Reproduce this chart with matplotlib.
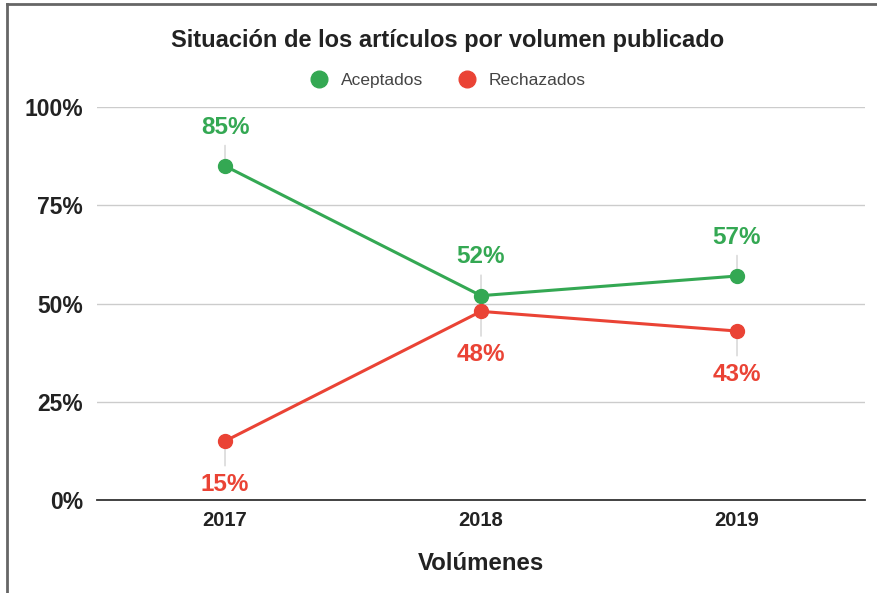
import matplotlib.pyplot as plt
from matplotlib.lines import Line2D
from matplotlib.ticker import FuncFormatter

plt.rcParams['font.family'] = ['Liberation Sans', 'DejaVu Sans']

# datos
volumenes = ['2017', '2018', '2019']
aceptados = [85, 52, 57]
rechazados = [15, 48, 43]
yticks = [0, 25, 50, 75, 100]

verde = '#34a853'
rojo = '#ea4335'

fig = plt.figure(figsize=(8.78, 5.93), dpi=100)
ax = fig.add_axes([0.1105, 0.1568, 0.8747, 0.6627])

x = range(len(volumenes))
ax.plot(x, aceptados, color=verde, lw=2.2, marker='o', ms=10, label='Aceptados', zorder=4)
ax.plot(x, rechazados, color=rojo, lw=2.2, marker='o', ms=10, label='Rechazados', zorder=4)

# etiquetas de datos con linea guia
for i in x:
    ax.annotate(f'{aceptados[i]}%', xy=(i, aceptados[i]), xytext=(0, 28),
                textcoords='offset points', ha='center', va='center',
                color=verde, fontsize=17.5, fontweight='bold',
                arrowprops=dict(arrowstyle='-', color='#dadada', lw=1.2,
                                shrinkA=3, shrinkB=4))
    ax.annotate(f'{rechazados[i]}%', xy=(i, rechazados[i]), xytext=(0, -31),
                textcoords='offset points', ha='center', va='center',
                color=rojo, fontsize=17.5, fontweight='bold',
                arrowprops=dict(arrowstyle='-', color='#dadada', lw=1.2,
                                shrinkA=3, shrinkB=4))

ax.set_xlim(-0.5, 2.5)
ax.set_ylim(0, 100)
ax.set_xticks(list(x))
ax.set_xticklabels(volumenes, fontsize=14.5, fontweight='bold', color='#222222')
ax.set_yticks(yticks)
ax.yaxis.set_major_formatter(FuncFormatter(lambda v, p: f'{int(v)}%'))
for lab in ax.get_yticklabels():
    lab.set_fontsize(16.5)
    lab.set_fontweight('bold')
    lab.set_color('#222222')
ax.tick_params(axis='both', length=0)
ax.tick_params(axis='y', pad=10)
ax.tick_params(axis='x', pad=8)

ax.grid(axis='y', color='#cccccc', lw=1)
ax.set_axisbelow(True)
for s in ['top', 'right', 'left']:
    ax.spines[s].set_visible(False)
ax.spines['bottom'].set_color('#333333')
ax.spines['bottom'].set_linewidth(1.3)
ax.spines['bottom'].set_zorder(3)

ax.set_xlabel('Volúmenes', fontsize=17.3, fontweight='bold', color='#222222', labelpad=16)

fig.text(0.51, 0.9325, 'Situación de los artículos por volumen publicado',
         ha='center', va='center', fontsize=17, fontweight='bold', color='#222222')

leg = fig.legend(loc='center', bbox_to_anchor=(0.51, 0.865), ncol=2, frameon=False,
                 fontsize=12.5, handlelength=1.1, columnspacing=2.0, handletextpad=0.7)
for t in leg.get_texts():
    t.set_color('#444444')
for h in leg.legend_handles:
    h.set_linestyle('none')
    h.set_markersize(12)

# borde gris
fig.add_artist(Line2D([0.008, 0.008], [0, 0.993], color='#666666', lw=2))
fig.add_artist(Line2D([0.008, 1.0], [0.993, 0.993], color='#666666', lw=2))

fig.savefig('out.png', dpi=100)
